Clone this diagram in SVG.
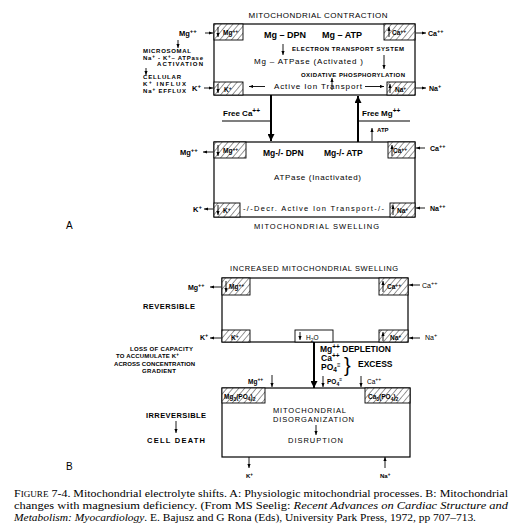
<svg xmlns="http://www.w3.org/2000/svg" width="515" height="530" viewBox="0 0 515 530">
<defs>
<pattern id="hatch" width="4.5" height="4.5" patternUnits="userSpaceOnUse" patternTransform="rotate(40)">
<rect width="4.5" height="4.5" fill="#fff"/>
<line x1="0" y1="0" x2="0" y2="4.5" stroke="#000" stroke-width="0.8"/>
</pattern>
<marker id="a" viewBox="0 0 10 10" refX="10" refY="5" markerWidth="4" markerHeight="4" orient="auto" markerUnits="userSpaceOnUse">
<path d="M0,1 L10,5 L0,9 z" fill="#000"/>
</marker>
<marker id="big" viewBox="0 0 10 10" refX="10" refY="5" markerWidth="10" markerHeight="7" orient="auto" markerUnits="userSpaceOnUse">
<path d="M0,0 L10,5 L0,10 z" fill="#000"/>
</marker>
</defs>
<style>
.box{fill:none;stroke:#000;stroke-width:1.2}
.h{fill:url(#hatch);stroke:#000;stroke-width:0.9}
.t{font-family:"Liberation Sans",Arial,sans-serif;font-weight:bold;fill:#000}
.n{font-family:"Liberation Sans",Arial,sans-serif;fill:#000}
.ar{stroke:#000;stroke-width:0.9;fill:none;marker-end:url(#a)}
.thick{stroke:#000;stroke-width:2;fill:none;marker-end:url(#big)}
.ln{stroke:#000;stroke-width:1.2;fill:none}
.cap{font-family:"Liberation Serif","Times New Roman",serif;font-size:10.5px;fill:#000}
</style>
<rect width="515" height="530" fill="#fff"/>

<!-- Panel A: contraction -->
<g id="contraction">
<text class="n" x="318" y="18" font-size="8" text-anchor="middle" textLength="139" lengthAdjust="spacing">MITOCHONDRIAL CONTRACTION</text>
<rect class="box" x="214" y="24" width="201" height="71"/>
<rect class="h" x="214" y="24" width="29" height="16"/>
<rect class="h" x="384" y="24" width="31" height="16"/>
<rect class="h" x="214" y="82" width="29" height="13"/>
<rect class="h" x="387" y="82" width="28" height="13"/>
<text class="t" x="223" y="35" font-size="6.5">Mg<tspan dy="-2.5" font-size="5">++</tspan></text>
<text class="t" x="392" y="35" font-size="6.5">Ca<tspan dy="-2.5" font-size="5">++</tspan></text>
<text class="t" x="224" y="92" font-size="6.5">K<tspan dy="-2.5" font-size="5">+</tspan></text>
<text class="t" x="395" y="92" font-size="6.5">Na<tspan dy="-2.5" font-size="5">+</tspan></text>
<line class="ar" x1="218" y1="27" x2="218" y2="37"/>
<line class="ar" x1="218" y1="84" x2="218" y2="93"/>
<line class="ar" x1="389" y1="37" x2="389" y2="27"/>
<line class="ar" x1="390" y1="93" x2="390" y2="84"/>
<text class="t" x="264" y="38" font-size="9">Mg – DPN</text>
<text class="t" x="322" y="38" font-size="9">Mg – ATP</text>
<line class="ar" x1="283" y1="44" x2="283" y2="55"/>
<text class="t" x="292" y="51" font-size="6" textLength="112">ELECTRON TRANSPORT SYSTEM</text>
<text class="n" x="254" y="64" font-size="8" textLength="109">Mg – ATPase (Activated )</text>
<line class="ar" x1="384" y1="55" x2="384" y2="69"/>
<text class="t" x="301" y="77" font-size="6" textLength="104">OXIDATIVE PHOSPHORYLATION</text>
<line class="ar" x1="332" y1="90" x2="332" y2="78"/>
<line class="ar" x1="265" y1="86.5" x2="249" y2="86.5"/>
<text class="n" x="274" y="89" font-size="8" textLength="88">Active Ion Transport</text>
<line class="ar" x1="365" y1="86.5" x2="384" y2="86.5"/>
</g>

<g id="contraction-side">
<text class="t" x="179" y="36" font-size="7.5">Mg<tspan dy="-3" font-size="6">++</tspan></text>
<text class="t" x="143" y="53" font-size="6" textLength="48">MICROSOMAL</text>
<text class="t" x="143" y="60" font-size="6" textLength="60">Na<tspan dy="-2" font-size="4.5">+</tspan><tspan dy="2"> - K</tspan><tspan dy="-2" font-size="4.5">+</tspan><tspan dy="2">– ATPase</tspan></text>
<text class="t" x="157" y="66" font-size="6" textLength="46">ACTIVATION</text>
<text class="t" x="143" y="79" font-size="6" textLength="38">CELLULAR</text>
<text class="t" x="143" y="86" font-size="6" textLength="43">K<tspan dy="-2" font-size="4.5">+</tspan><tspan dy="2"> INFLUX</tspan></text>
<text class="t" x="143" y="93" font-size="6" textLength="43">Na<tspan dy="-2" font-size="4.5">+</tspan><tspan dy="2"> EFFLUX</tspan></text>
<text class="t" x="192" y="91" font-size="7.5">K<tspan dy="-3" font-size="6">+</tspan></text>
<text class="t" x="428" y="36" font-size="7">Ca<tspan dy="-3" font-size="5.5">++</tspan></text>
<text class="t" x="429" y="91" font-size="7">Na<tspan dy="-3" font-size="5.5">+</tspan></text>
</g>

<!-- Panel A: swelling -->
<g id="swelling">
<rect class="box" x="214" y="142" width="201" height="75"/>
<rect class="h" x="214" y="142" width="32" height="16"/>
<rect class="h" x="388" y="142" width="27" height="16"/>
<rect class="h" x="214" y="203" width="26" height="14"/>
<rect class="h" x="390" y="203" width="25" height="14"/>
<text class="t" x="223" y="153" font-size="6.5">Mg<tspan dy="-2.5" font-size="5">++</tspan></text>
<text class="t" x="393" y="153" font-size="6.5">Ca<tspan dy="-2.5" font-size="5">++</tspan></text>
<text class="t" x="223" y="213" font-size="6.5">K<tspan dy="-2.5" font-size="5">+</tspan></text>
<text class="t" x="397" y="213" font-size="6.5">Na<tspan dy="-2.5" font-size="5">+</tspan></text>
<line class="ar" x1="218" y1="145" x2="218" y2="156"/>
<line class="ar" x1="218" y1="205" x2="218" y2="215"/>
<line class="ar" x1="392" y1="156" x2="392" y2="145"/>
<line class="ar" x1="393" y1="215" x2="393" y2="205"/>
<text class="t" x="263" y="156" font-size="8.5">Mg-/- DPN</text>
<text class="t" x="324" y="156" font-size="8.5">Mg-/- ATP</text>
<text class="n" x="274" y="180" font-size="8" textLength="87">ATPase (Inactivated)</text>
<text class="n" x="243" y="211" font-size="7.5" textLength="141">-/-Decr. Active Ion Transport-/-</text>
<text class="n" x="254" y="229" font-size="7.5" textLength="125">MITOCHONDRIAL SWELLING</text>
<text class="t" x="180" y="155" font-size="7.5">Mg<tspan dy="-3" font-size="6">++</tspan></text>
<text class="t" x="193" y="212" font-size="7.5">K<tspan dy="-3" font-size="6">+</tspan></text>
<text class="t" x="430" y="151" font-size="7">Ca<tspan dy="-3" font-size="5.5">++</tspan></text>
<text class="t" x="430" y="211" font-size="7">Na<tspan dy="-3" font-size="5.5">++</tspan></text>
<text class="n" x="66" y="229" font-size="10">A</text>
</g>

<!-- Panel B: increased swelling -->
<g id="increased-swelling">
<text class="n" x="230" y="271" font-size="7.5" textLength="168">INCREASED MITOCHONDRIAL SWELLING</text>
<rect class="box" x="222" y="278" width="186" height="64"/>
<rect class="h" x="222" y="278" width="28" height="17"/>
<rect class="h" x="379" y="278" width="29" height="17"/>
<rect class="h" x="222" y="330" width="28" height="12"/>
<rect class="h" x="379" y="330" width="29" height="12"/>
<rect x="295" y="330" width="38" height="12" fill="#fff" stroke="#000" stroke-width="0.9"/>
<text class="t" x="229" y="289" font-size="6.5">Mg<tspan dy="-2.5" font-size="5">++</tspan></text>
<text class="t" x="387" y="289" font-size="6.5">Ca<tspan dy="-2.5" font-size="5">++</tspan></text>
<text class="t" x="231" y="340" font-size="6.5">K<tspan dy="-2.5" font-size="5">+</tspan></text>
<text class="t" x="390" y="340" font-size="6.5">Na<tspan dy="-2.5" font-size="5">+</tspan></text>
<line class="ar" x1="226" y1="281" x2="226" y2="292"/>
<line class="ar" x1="383" y1="292" x2="383" y2="281"/>
<line class="ar" x1="383" y1="341" x2="383" y2="332"/>
<line class="ar" x1="300" y1="332" x2="300" y2="340"/>
<text class="n" x="306" y="340" font-size="6.5">H<tspan dy="1.5" font-size="5">2</tspan><tspan dy="-1.5">O</tspan></text>
<text class="t" x="188" y="290" font-size="7">Mg<tspan dy="-3" font-size="5.5">++</tspan></text>
<text class="t" x="200" y="340" font-size="7">K<tspan dy="-3" font-size="5.5">+</tspan></text>
<text class="n" x="422" y="288" font-size="7">Ca<tspan dy="-3" font-size="5.5">++</tspan></text>
<text class="n" x="425" y="340" font-size="7">Na<tspan dy="-3" font-size="5.5">+</tspan></text>
</g>

<g id="b-side-labels">
<text class="t" x="143" y="309" font-size="7.5" textLength="52">REVERSIBLE</text>
<text class="t" x="130" y="351" font-size="6" textLength="63">LOSS OF CAPACITY</text>
<text class="t" x="116" y="358" font-size="6" textLength="63">TO ACCUMULATE  K<tspan dy="-2" font-size="4.5">+</tspan></text>
<text class="t" x="114" y="366" font-size="6" textLength="81">ACROSS CONCENTRATION</text>
<text class="t" x="142" y="373" font-size="6" textLength="34">GRADIENT</text>
<text class="t" x="320" y="352" font-size="8.5">Mg<tspan dy="-3" font-size="6.5">++</tspan><tspan dy="3"> DEPLETION</tspan></text>
<text class="t" x="321" y="361" font-size="8.5">Ca<tspan dy="-3" font-size="6.5">++</tspan></text>
<text class="t" x="321" y="370" font-size="8.5">PO<tspan dy="2" font-size="6.5">4</tspan><tspan dy="-5" font-size="6">≡</tspan></text>
<text class="n" x="344" y="372" font-size="20">}</text>
<text class="t" x="358" y="367" font-size="8.5">EXCESS</text>
<text class="t" x="146" y="418" font-size="7.5" textLength="60">IRREVERSIBLE</text>
<text class="t" x="147" y="443" font-size="7.5" textLength="58">CELL DEATH</text>
<text class="n" x="66" y="470" font-size="10">B</text>
</g>

<!-- Panel B: disorganization -->
<g id="disorganization">
<rect class="box" x="222" y="388" width="188" height="69"/>
<rect class="h" x="222" y="388" width="43" height="15"/>
<rect class="h" x="365" y="388" width="45" height="15"/>
<text class="t" x="224" y="399" font-size="6.5">Mg<tspan dy="1.5" font-size="5">3</tspan><tspan dy="-1.5">(PO</tspan><tspan dy="1.5" font-size="5">4</tspan><tspan dy="-1.5">)</tspan><tspan dy="1.5" font-size="5">2</tspan></text>
<text class="t" x="368" y="399" font-size="6.5">Ca<tspan dy="1.5" font-size="5">3</tspan><tspan dy="-1.5">(PO</tspan><tspan dy="1.5" font-size="5">4</tspan><tspan dy="-1.5">)</tspan><tspan dy="1.5" font-size="5">2</tspan></text>
<text class="n" x="273" y="413" font-size="7.5" textLength="73">MITOCHONDRIAL</text>
<text class="n" x="273" y="422" font-size="7.5" textLength="81">DISORGANIZATION</text>
<text class="n" x="288" y="443" font-size="7.5" textLength="55">DISRUPTION</text>
<text class="t" x="248" y="384" font-size="6.5">Mg<tspan dy="-3" font-size="5">++</tspan></text>
<text class="t" x="327" y="384" font-size="6.5">PO<tspan dy="1.5" font-size="5">4</tspan><tspan dy="-4.5" font-size="5">≡</tspan></text>
<text class="n" x="367" y="384" font-size="6.5">Ca<tspan dy="-3" font-size="5">++</tspan></text>
<text class="t" x="246" y="478" font-size="6">K<tspan dy="-2.5" font-size="4.5">+</tspan></text>
<text class="t" x="380" y="478" font-size="6">Na<tspan dy="-2.5" font-size="4.5">+</tspan></text>
</g>

<!-- Connectors -->
<g id="connectors">
<line class="ar" x1="205" y1="33" x2="213" y2="33"/>
<line class="ar" x1="178" y1="40" x2="178" y2="48"/>
<line class="ar" x1="146" y1="68" x2="146" y2="75"/>
<line class="ar" x1="204" y1="88" x2="213" y2="88"/>
<line class="ar" x1="416" y1="33" x2="426" y2="33"/>
<line class="ar" x1="416" y1="88" x2="426" y2="88"/>
<line class="thick" x1="271" y1="95" x2="271" y2="141"/>
<line class="ln" x1="222" y1="121" x2="271" y2="121"/>
<text class="t" x="223" y="116" font-size="8">Free Ca<tspan dy="-3" font-size="6.5">++</tspan></text>
<line class="thick" x1="358" y1="142" x2="358" y2="96"/>
<line class="ln" x1="358" y1="121" x2="410" y2="121"/>
<text class="t" x="362" y="116" font-size="8">Free Mg<tspan dy="-3" font-size="6.5">++</tspan></text>
<line class="ar" x1="372" y1="141" x2="372" y2="128"/>
<text class="t" x="377" y="132" font-size="6">ATP</text>
<line class="ar" x1="213" y1="152" x2="203" y2="152"/>
<line class="ar" x1="213" y1="209" x2="204" y2="209"/>
<line class="ar" x1="425" y1="148" x2="416" y2="148"/>
<line class="ar" x1="425" y1="208" x2="416" y2="208"/>
<line class="ar" x1="221" y1="287" x2="210" y2="287"/>
<line class="ar" x1="221" y1="338" x2="210" y2="338"/>
<line class="ar" x1="420" y1="285" x2="409" y2="285"/>
<line class="ar" x1="420" y1="338" x2="409" y2="338"/>
<line class="thick" x1="314" y1="342" x2="314" y2="388"/>
<line class="ar" x1="272" y1="375" x2="272" y2="387"/>
<line class="ar" x1="323" y1="376" x2="323" y2="387"/>
<line class="ar" x1="361" y1="376" x2="361" y2="387"/>
<line class="ar" x1="316" y1="425" x2="316" y2="435"/>
<line class="ar" x1="176" y1="421" x2="176" y2="433"/>
<line class="ar" x1="249" y1="457" x2="249" y2="468"/>
<line class="ar" x1="385" y1="468" x2="385" y2="457"/>
</g>

<!-- Caption -->
<g id="caption">
<text class="cap" x="14" y="497" textLength="494" lengthAdjust="spacingAndGlyphs">F<tspan font-size="8">IGURE</tspan> 7-4. Mitochondrial electrolyte shifts. A: Physiologic mitochondrial processes. B: Mitochondrial</text>
<text class="cap" x="14" y="509" textLength="494" lengthAdjust="spacingAndGlyphs">changes with magnesium deficiency. (From MS Seelig: <tspan font-style="italic">Recent Advances on Cardiac Structure and</tspan></text>
<text class="cap" x="14" y="521" textLength="462" lengthAdjust="spacingAndGlyphs"><tspan font-style="italic">Metabolism: Myocardiology</tspan>. E. Bajusz and G Rona (Eds), University Park Press, 1972, pp 707–713.</text>
</g>
</svg>
